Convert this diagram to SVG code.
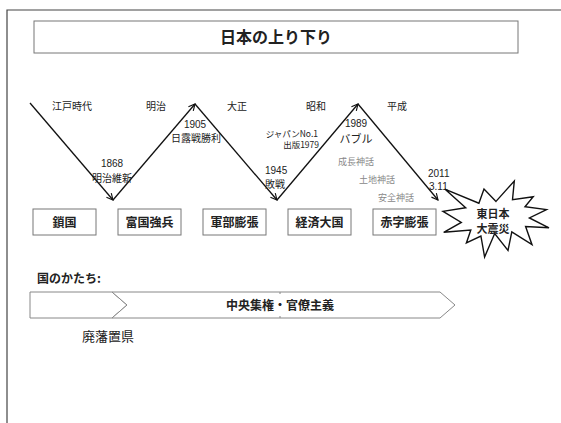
<svg xmlns="http://www.w3.org/2000/svg" width="561" height="423" viewBox="0 0 561 423">
<defs>
<marker id="arr" viewBox="0 0 10 10" refX="9" refY="5" markerWidth="8" markerHeight="8" markerUnits="userSpaceOnUse" orient="auto">
<path d="M1,1 L9,5 L1,9" fill="none" stroke="#111" stroke-width="1.4"/>
</marker>
<style>
text{font-family:"Noto Sans CJK JP","Liberation Sans",sans-serif;fill:#222}
.num{font-family:"Liberation Sans","Noto Sans CJK JP",sans-serif}
.era{font-size:10px;text-anchor:middle}
.ev{font-size:10px;text-anchor:middle}
.myth{font-size:9px;fill:#888;text-anchor:middle}
.box rect{fill:#fff;stroke:#777;stroke-width:1}
.box text{font-size:12px;font-weight:bold;text-anchor:middle}
.zig{stroke:#111;stroke-width:1.3;fill:none;marker-end:url(#arr)}
.chev{fill:#fff;stroke:#888;stroke-width:1}
</style>
</defs>
<rect width="561" height="423" fill="#fff"/>
<path d="M7,423 V10 H561" fill="none" stroke="#444" stroke-width="1.2"/>
<g id="title">
<rect x="34" y="21" width="484" height="32" fill="#fff" stroke="#777" stroke-width="1"/>
<text x="276" y="43" font-size="16" font-weight="bold" text-anchor="middle">日本の上り下り</text>
</g>
<g id="connectors">
<line class="zig" x1="30" y1="103" x2="113" y2="200"/>
<line class="zig" x1="113" y1="200" x2="195" y2="104"/>
<line class="zig" x1="195" y1="104" x2="277" y2="200"/>
<line class="zig" x1="277" y1="200" x2="358" y2="104"/>
<line class="zig" x1="358" y1="104" x2="438" y2="200"/>
</g>
<g id="eras">
<text class="era" x="72" y="110">江戸時代</text>
<text class="era" x="156" y="110">明治</text>
<text class="era" x="237" y="110">大正</text>
<text class="era" x="316" y="110">昭和</text>
<text class="era" x="397" y="110">平成</text>
</g>
<g id="events">
<text class="ev num" x="112" y="167">1868</text>
<text class="ev" x="112" y="182">明治維新</text>
<text class="ev num" x="195" y="128">1905</text>
<text class="ev" x="196" y="142">日露戦勝利</text>
<text class="num" x="265" y="174" font-size="10">1945</text>
<text x="265" y="188" font-size="10">敗戦</text>
<text x="318" y="137" font-size="8.5" text-anchor="end">ジャパンNo.1</text>
<text x="319" y="148" font-size="8.5" text-anchor="end">出版1979</text>
<text class="num" x="356" y="127" font-size="10" text-anchor="middle">1989</text>
<text x="356" y="143" font-size="11" text-anchor="middle">バブル</text>
<text class="num" x="428" y="177" font-size="10">2011</text>
<text class="num" x="429" y="190" font-size="10">3.11</text>
<text class="myth" x="356" y="165">成長神話</text>
<text class="myth" x="377" y="183">土地神話</text>
<text class="myth" x="396" y="201">安全神話</text>
</g>
<g id="sakoku" class="box"><rect x="33" y="209" width="63" height="26"/><text x="64.5" y="227">鎖国</text></g>
<g id="fukoku" class="box"><rect x="118" y="209" width="63" height="26"/><text x="149.5" y="227">富国強兵</text></g>
<g id="gunbu" class="box"><rect x="203" y="209" width="63" height="26"/><text x="234.5" y="227">軍部膨張</text></g>
<g id="keizai" class="box"><rect x="288" y="209" width="63" height="26"/><text x="319.5" y="227">経済大国</text></g>
<g id="akaji" class="box"><rect x="373" y="209" width="63" height="26"/><text x="404.5" y="227">赤字膨張</text></g>
<g id="shinsai">
<polygon points="496.0,201.4 514.3,181 512.5,199.7 533.2,196.7 525.0,206.7 546.5,209.6 529.4,217.9 549,227.8 525.6,226.5 532.0,244.7 511.8,231.9 508.0,250.4 494.7,233.5 484.6,257 480.9,236.0 466.4,243.0 470.8,230.0 443.7,232.3 461.3,222.4 443,211.3 465.7,207.8 444.8,189.1 478.9,203.2 484.0,189.1" fill="#fff" stroke="#111" stroke-width="1.4" stroke-linejoin="miter"/>
<text x="493" y="218" font-size="11" font-weight="bold" text-anchor="middle">東日本</text>
<text x="493" y="233" font-size="11" font-weight="bold" text-anchor="middle">大震災</text>
</g>
<g id="katachi">
<text x="37" y="283" font-size="12" font-weight="bold">国のかたち:</text>
</g>
<g id="haihan">
<polygon class="chev" points="30,292 112,292 127,305 112,318 30,318"/>
<text x="108" y="341" font-size="13" text-anchor="middle">廃藩置県</text>
</g>
<g id="chuo">
<polygon class="chev" points="112,292 440,292 455,305 440,318 112,318 127,305"/>
<path d="M280,292 v2 M280,318 v-2" stroke="#888" stroke-width="1"/>
<text x="280" y="310" font-size="12" font-weight="bold" text-anchor="middle">中央集権・官僚主義</text>
</g>
</svg>
